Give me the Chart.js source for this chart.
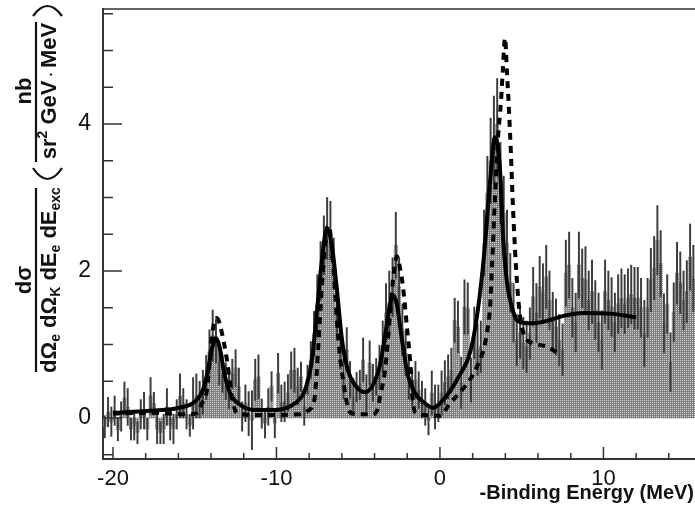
<!DOCTYPE html>
<html>
<head>
<meta charset="utf-8">
<script src="https://cdn.jsdelivr.net/npm/chart.js@4.4.1/dist/chart.umd.min.js"></script>
<style>
  body { margin: 0; background: #fff; }
  canvas { display: block; }
</style>
</head>
<body>
<canvas id="spectrum" width="695" height="508"></canvas>
<script>
// Histogram binning (0.2 MeV bins starting at -20.6 MeV)
const binStart = -20.6;
const binWidth = 0.2;

// Counts per bin (nb / sr^2 GeV MeV)
const counts = [
  -0.12, 0.08, -0.05, 0.1, -0.16, 0.02, 0.27, 0.15, -0.15, -0.1,
  -0.2, 0.05, 0.1, -0.15, 0.3, 0.2, -0.15, -0.2, -0.15, 0.15,
  -0.1, -0.15, 0.05, 0.3, 0.2, 0.05, -0.1, 0.2, 0.3, 0.25,
  0.35, 0.55, 0.9, 1.12, 1.05, 0.75, 0.6, 0.5, 0.38, 0.6,
  0.68, 0.43, 0.02, 0.2, 0.06, -0.03, 0.52, 0.56, 0.06, -0.07,
  0.15, 0.43, -0.07, 0.61, 0.2, 0.22, 0.34, 0.65, 0.65, 0.43,
  0.56, 0.15, 0.52, 0.79, 1.15, 1.55, 2.0, 2.35, 2.58, 2.55,
  2.1, 1.5, 0.97, 0.56, 0.93, 0.52, 0.29, 0.42, 0.45, 0.79,
  0.34, 0.75, 0.48, 0.56, 0.69, 0.97, 1.43, 1.56, 1.78, 2.35,
  1.78, 1.2, 0.88, 0.56, 0.42, 0.52, 0.38, 0.25, 0.15, -0.03,
  0.34, 0.15, 0.2, 0.34, 0.48, 0.56, 0.65, 1.33, 1.24, 0.48,
  1.51, 1.49, 0.52, 1.16, 0.93, 0.97, 2.38, 3.06, 3.5, 3.78,
  4.0, 3.2, 2.79, 2.38, 1.84, 1.43, 1.06, 1.16, 1.02, 0.97,
  1.15, 1.65, 1.43, 1.78, 1.7, 1.92, 1.6, 1.33, 1.24, 1.06,
  0.93, 1.97, 2.08, 1.5, 1.3, 2.08, 1.9, 1.88, 1.6, 1.72,
  1.47, 1.3, 1.06, 1.72, 1.6, 1.51, 1.3, 1.55, 1.63, 1.55,
  1.63, 1.68, 1.63, 1.63, 1.5, 1.15, 1.5, 1.88, 2.04, 2.42,
  2.1, 1.29, 1.55, 0.76, 1.44, 1.97, 1.84, 1.6, 1.72, 2.19, 1.9
];

// Statistical error per bin
const errors = [
  0.15, 0.2, 0.2, 0.2, 0.15, 0.2, 0.22, 0.25, 0.15, 0.2,
  0.15, 0.2, 0.25, 0.15, 0.25, 0.15, 0.2, 0.15, 0.2, 0.25,
  0.2, 0.2, 0.2, 0.3, 0.2, 0.2, 0.15, 0.35, 0.3, 0.25,
  0.3, 0.3, 0.3, 0.35, 0.3, 0.3, 0.25, 0.25, 0.25, 0.2,
  0.25, 0.25, 0.2, 0.25, 0.3, 0.4, 0.28, 0.3, 0.2, 0.2,
  0.25, 0.2, 0.2, 0.27, 0.25, 0.27, 0.25, 0.25, 0.3, 0.25,
  0.2, 0.25, 0.2, 0.25, 0.3, 0.4, 0.4, 0.4, 0.42, 0.4,
  0.35, 0.35, 0.3, 0.3, 0.3, 0.25, 0.25, 0.2, 0.2, 0.3,
  0.25, 0.3, 0.25, 0.25, 0.3, 0.35, 0.4, 0.44, 0.4, 0.45,
  0.4, 0.35, 0.3, 0.3, 0.25, 0.25, 0.25, 0.25, 0.25, 0.2,
  0.3, 0.3, 0.25, 0.3, 0.3, 0.3, 0.3, 0.3, 0.35, 0.35,
  0.37, 0.35, 0.3, 0.35, 0.35, 0.35, 0.45, 0.5, 0.58, 0.6,
  0.62, 0.55, 0.5, 0.45, 0.4, 0.4, 0.35, 0.35, 0.35, 0.35,
  0.35, 0.4, 0.4, 0.42, 0.4, 0.43, 0.4, 0.38, 0.38, 0.35,
  0.35, 0.45, 0.45, 0.4, 0.4, 0.45, 0.4, 0.45, 0.4, 0.43,
  0.4, 0.4, 0.4, 0.43, 0.4, 0.4, 0.4, 0.4, 0.4, 0.4,
  0.4, 0.4, 0.42, 0.42, 0.4, 0.45, 0.4, 0.43, 0.43, 0.47,
  0.45, 0.4, 0.4, 0.4, 0.4, 0.42, 0.42, 0.4, 0.42, 0.45, 0.45
];

// Solid curve (fit)
const fitX = [-20.0, -17.7, -15.9, -15.0, -14.5, -14.19, -13.94, -13.7, -13.46, -13.21,
  -12.84, -12.23, -11.3, -10.1, -8.87, -8.26, -7.83, -7.46, -7.22, -6.91,
  -6.61, -6.3, -5.99, -5.63, -5.2, -4.59, -4.1, -3.67, -3.3, -3.06,
  -2.87, -2.63, -2.32, -1.96, -1.53, -0.92, -0.43, 0.0, 1.04, 2.02,
  2.63, 3.06, 3.36, 3.67, 3.85, 4.1, 4.4, 4.71, 5.32, 6.1,
  7.77, 8.75, 10.4, 12.0];
const fitY = [0.07, 0.1, 0.14, 0.22, 0.38, 0.65, 0.95, 1.09, 0.95, 0.63,
  0.34, 0.18, 0.11, 0.11, 0.2, 0.38, 0.79, 1.6, 2.15, 2.58,
  2.35, 1.74, 1.06, 0.65, 0.45, 0.35, 0.45, 0.72, 1.2, 1.54,
  1.67, 1.54, 1.06, 0.58, 0.34, 0.2, 0.14, 0.2, 0.52, 1.06,
  2.06, 3.2, 3.82, 3.4, 2.5, 1.84, 1.51, 1.33, 1.29, 1.3,
  1.4, 1.43, 1.42, 1.37];

// Dashed curve (model)
const modelX = [-20.0, -17.7, -15.29, -14.86, -14.56, -14.25, -14.07, -13.88, -13.64, -13.33, -13.03,
  -12.66, -12.35, -11.0, -8.56, -8.07, -7.83, -7.65, -7.46, -7.22, -7.03,
  -6.85, -6.67, -6.48, -6.3, -6.12, -5.93, -5.63, -5.38, -4.16, -3.85,
  -3.67, -3.36, -3.06, -2.87, -2.63, -2.45, -2.26, -2.02, -1.83, -1.65,
  -1.41, 0.0, 0.61, 1.22, 1.83, 2.26, 2.63, 2.87, 3.06, 3.18,
  3.36, 3.55, 3.73, 3.85, 3.98, 4.1, 4.22, 4.34, 4.46, 4.59,
  4.71, 4.89, 5.2, 5.69, 6.54, 7.22];
const modelY = [0.06, 0.07, 0.05, 0.07, 0.2, 0.38, 0.8, 1.22, 1.36, 1.15, 0.79,
  0.2, 0.06, 0.04, 0.05, 0.1, 0.15, 0.3, 0.9, 1.8, 2.35,
  2.62, 2.45, 1.95, 1.3, 0.85, 0.52, 0.15, 0.06, 0.05, 0.1,
  0.29, 0.65, 1.4, 1.88, 2.2, 2.05, 1.78, 1.24, 0.79, 0.2,
  0.06, 0.03, 0.2, 0.35, 0.52, 0.7, 0.9, 1.15, 1.5, 2.05,
  2.97, 3.8, 4.3, 4.75, 5.17, 4.7, 4.2, 3.6, 2.9, 2.3,
  1.85, 1.4, 1.1, 1.02, 0.97, 0.88];

// Axis ranges and tick labels
const xRange = [-20.61, 15.6];
const yRange = [-0.558, 5.565];
const xLabels = [-20, -10, 0, 10];
const yLabels = [0, 2, 4];

// Build chart data from the arrays
const barData = counts.map((v, i) => ({ x: binStart + binWidth * (i + 0.5), y: v }));
const errData = counts.map((v, i) => ({ x: binStart + binWidth * (i + 0.5), y: [v - errors[i], v + errors[i]] }));
const fitData = fitX.map((x, i) => ({ x, y: fitY[i] }));
const modelData = modelX.map((x, i) => ({ x, y: modelY[i] }));

const ctx = document.getElementById('spectrum').getContext('2d');

// Dotted gray fill for the histogram
const pc = document.createElement('canvas');
pc.width = 2; pc.height = 2;
const pctx = pc.getContext('2d');
pctx.fillStyle = '#828282';
pctx.fillRect(0, 0, 2, 2);
pctx.fillStyle = '#cccccc';
pctx.fillRect(0, 0, 1, 1);
const barFill = ctx.createPattern(pc, 'repeat');

// Draw a rotated line of text made of runs (for the y-axis title)
function drawRuns(c, runs, bx, cy) {
    c.save();
    c.translate(bx, cy);
    c.rotate(-Math.PI / 2);
    let total = 0;
    runs.forEach(r => {
        c.font = `bold ${r.size}px "Liberation Sans"`;
        r.w = c.measureText(r.t).width;
        total += r.w;
    });
    let u = -total / 2;
    c.textAlign = 'left';
    c.textBaseline = 'alphabetic';
    runs.forEach(r => {
        c.font = `bold ${r.size}px "Liberation Sans"`;
        c.fillText(r.t, u, r.dy || 0);
        u += r.w;
    });
    c.restore();
}

const axisDecor = {
    id: 'axisDecor',
    afterDraw(chart) {
        const c = chart.ctx;
        const a = chart.chartArea;
        const xs = chart.scales.x;
        const ys = chart.scales.y;
        c.save();
        c.strokeStyle = '#333';
        c.lineWidth = 1.5;

        // top frame line
        c.beginPath();
        c.moveTo(a.left, a.top);
        c.lineTo(a.right, a.top);
        c.stroke();

        // inward ticks
        xs.ticks.forEach(t => {
            const major = Math.abs(t.value % 10) < 1e-6;
            const px = xs.getPixelForValue(t.value);
            c.beginPath();
            c.moveTo(px, a.bottom);
            c.lineTo(px, a.bottom - (major ? 12 : 6));
            c.stroke();
        });
        ys.ticks.forEach(t => {
            const major = Math.abs(t.value % 2) < 1e-6;
            const py = ys.getPixelForValue(t.value);
            c.beginPath();
            c.moveTo(a.left, py);
            c.lineTo(a.left + (major ? 19 : 10), py);
            c.stroke();
        });

        // x-axis title
        c.fillStyle = '#111';
        c.font = 'bold 20px "Liberation Sans"';
        c.textAlign = 'right';
        c.textBaseline = 'alphabetic';
        c.fillText('-Binding Energy (MeV)', 694, 499);

        // y-axis title: dσ / (dΩe dΩK dEe dEexc) (nb / sr² GeV·MeV)
        drawRuns(c, [{ t: 'dσ', size: 22 }], 31, 280);
        drawRuns(c, [
            { t: 'dΩ', size: 22 }, { t: 'e', size: 14, dy: 4 },
            { t: ' dΩ', size: 22 }, { t: 'K', size: 14, dy: 4 },
            { t: ' dE', size: 22 }, { t: 'e', size: 14, dy: 4 },
            { t: ' dE', size: 22 }, { t: 'exc', size: 14, dy: 4 }
        ], 56, 280);
        drawRuns(c, [{ t: 'nb', size: 22 }], 31, 91);
        drawRuns(c, [
            { t: 'sr', size: 22 }, { t: '2', size: 14, dy: -9 },
            { t: ' GeV', size: 22 }, { t: ' · ', size: 14 },
            { t: 'MeV', size: 22 }
        ], 56, 91);

        c.lineWidth = 2.2;
        c.strokeStyle = '#111';
        c.beginPath();
        c.moveTo(36, 372); c.lineTo(36, 188);
        c.moveTo(36, 162); c.lineTo(36, 22);
        c.stroke();

        // large parentheses around the units
        c.beginPath();
        c.moveTo(33, 168);
        c.quadraticCurveTo(47.5, 190, 62, 168);
        c.moveTo(33, 16);
        c.quadraticCurveTo(47.5, -4, 62, 16);
        c.stroke();

        c.restore();
    }
};

const chart = new Chart(ctx, {
    type: 'bar',
    data: {
        datasets: [
            {
                type: 'line',
                data: fitData,
                borderColor: '#000',
                borderWidth: 4,
                pointRadius: 0,
                cubicInterpolationMode: 'monotone',
                order: 0
            },
            {
                type: 'line',
                data: modelData,
                borderColor: '#000',
                borderWidth: 4,
                borderDash: [7, 6],
                pointRadius: 0,
                cubicInterpolationMode: 'monotone',
                order: 0
            },
            {
                data: errData,
                backgroundColor: '#3c3c3c',
                barThickness: 1.3,
                grouped: false,
                order: 1
            },
            {
                data: barData,
                backgroundColor: barFill,
                barPercentage: 1,
                categoryPercentage: 1,
                grouped: false,
                order: 2
            }
        ]
    },
    options: {
        responsive: false,
        animation: false,
        layout: { padding: { top: 9, right: 0, left: 0, bottom: 0 } },
        plugins: {
            legend: { display: false },
            tooltip: { enabled: false }
        },
        scales: {
            x: {
                type: 'linear',
                min: xRange[0],
                max: xRange[1],
                offset: false,
                grid: { display: false, offset: false, drawTicks: false },
                border: { color: '#333', width: 2 },
                ticks: {
                    stepSize: 2,
                    includeBounds: false,
                    autoSkip: false,
                    maxRotation: 0,
                    padding: 7,
                    color: '#111',
                    font: { family: 'Liberation Sans', size: 22 },
                    callback: v => xLabels.includes(Math.round(v)) && Math.abs(v % 10) < 1e-6 ? String(Math.round(v)) : ''
                },
                afterFit: s => { s.height = 49; s.paddingLeft = 0; s.paddingRight = 0; }
            },
            y: {
                min: yRange[0],
                max: yRange[1],
                grid: { display: false, drawTicks: false },
                border: { color: '#333', width: 2 },
                ticks: {
                    stepSize: 0.5,
                    includeBounds: false,
                    padding: 12,
                    color: '#111',
                    font: { family: 'Liberation Sans', size: 23 },
                    callback: v => yLabels.includes(v) ? String(v) : ''
                },
                afterFit: s => { s.width = 103; s.paddingTop = 0; s.paddingBottom = 0; }
            }
        }
    },
    plugins: [axisDecor]
});
</script>
</body>
</html>
